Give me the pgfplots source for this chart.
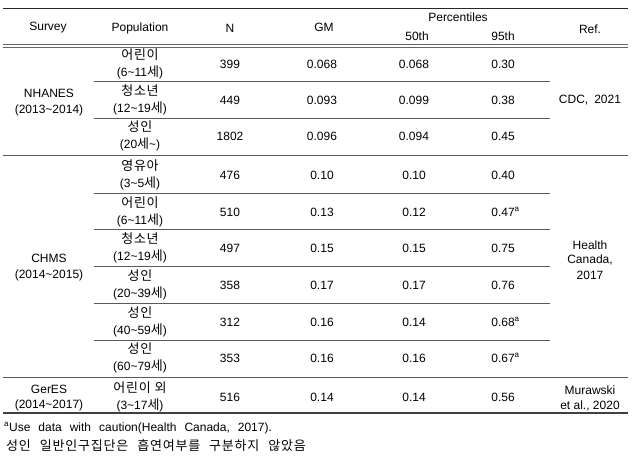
\documentclass[border=0pt]{standalone}
\usepackage{fontspec}
\setmainfont{Liberation Sans}
\newfontfamily\krf[LetterSpace=6]{Noto Sans CJK KR}
\newcommand\kr{\krf\fontsize{13bp}{15bp}\selectfont}
\usepackage{pgfplots}
\pgfplotsset{compat=1.18}
\newcommand\td{\textasciitilde}
\newcommand\sa{\rlap{\textsuperscript{\fontsize{8bp}{8bp}\selectfont a}}}
\begin{document}
\begin{tikzpicture}[tx/.style={font=\fontsize{12bp}{15bp}\selectfont, align=center, inner sep=0pt}]
\begin{axis}[hide axis, scale only axis, width=633bp, height=460bp,
  xmin=0, xmax=633, ymin=0, ymax=460, y dir=reverse, clip=false,
  nodes near coords, point meta=explicit symbolic,
  every node near coord/.append style={anchor=center, inner sep=0pt, font=\fontsize{12bp}{15bp}\selectfont, text=black}]
\path (axis cs:0,0) rectangle (axis cs:633,460);
% N
\addplot[draw=none, mark=none] coordinates {
(230,64)[399] (230,100)[449] (230,136)[1802]
(230,175)[476] (230,212)[510] (230,248)[497] (230,285)[358] (230,322)[312] (230,358)[353]
(230,397)[516]};
% GM
\addplot[draw=none, mark=none] coordinates {
(322,64)[0.068] (322,100)[0.093] (322,136)[0.096]
(322,175)[0.10] (322,212)[0.13] (322,248)[0.15] (322,285)[0.17] (322,322)[0.16] (322,358)[0.16]
(322,397)[0.14]};
% 50th
\addplot[draw=none, mark=none] coordinates {
(414,64)[0.068] (414,100)[0.099] (414,136)[0.094]
(414,175)[0.10] (414,212)[0.12] (414,248)[0.15] (414,285)[0.17] (414,322)[0.14] (414,358)[0.16]
(414,397)[0.14]};
% 95th
\addplot[draw=none, mark=none] coordinates {
(503,64)[0.30] (503,100)[0.38] (503,136)[0.45]
(503,175)[0.40] (503,212)[0.47\sa] (503,248)[0.75] (503,285)[0.76] (503,322)[0.68\sa] (503,358)[0.67\sa]
(503,397)[0.56]};

% rules
\draw[line width=1.6pt, black!85] (axis cs:3,8.5) -- (axis cs:628,8.5);
\draw[line width=0.8pt, black!60] (axis cs:3,44) -- (axis cs:628,44);
\draw[line width=0.8pt, black!60] (axis cs:3,47) -- (axis cs:628,47);
\draw[line width=0.9pt, black!65] (axis cs:94,81) -- (axis cs:550,81);
\draw[line width=0.9pt, black!65] (axis cs:94,118) -- (axis cs:550,118);
\draw[line width=0.9pt, black!65] (axis cs:94,193) -- (axis cs:550,193);
\draw[line width=0.9pt, black!65] (axis cs:94,229) -- (axis cs:550,229);
\draw[line width=0.9pt, black!65] (axis cs:94,266) -- (axis cs:550,266);
\draw[line width=0.9pt, black!65] (axis cs:94,303) -- (axis cs:550,303);
\draw[line width=0.9pt, black!65] (axis cs:94,340) -- (axis cs:550,340);
\draw[line width=0.9pt, black!65] (axis cs:3,155) -- (axis cs:628,155);
\draw[line width=0.9pt, black!65] (axis cs:3,377) -- (axis cs:628,377);
\draw[line width=1.3pt, black!75] (axis cs:3,413) -- (axis cs:628,413);

% header
\node[tx] at (axis cs:48,28) {Survey};
\node[tx] at (axis cs:140,28) {Population};
\node[tx] at (axis cs:230,28) {N};
\node[tx] at (axis cs:324,27) {GM};
\node[tx] at (axis cs:458,17) {Percentiles};
\node[tx] at (axis cs:417,36) {50th};
\node[tx] at (axis cs:503,36) {95th};
\node[tx] at (axis cs:590,29) {Ref.};

% survey
\node[tx] at (axis cs:49,93) {NHANES};
\node[tx] at (axis cs:49,110) {(2013\td2014)};
\node[tx] at (axis cs:49,258) {CHMS};
\node[tx] at (axis cs:49,275) {(2014\td2015)};
\node[tx] at (axis cs:49,389) {GerES};
\node[tx] at (axis cs:49,405) {(2014\td2017)};

% population
\node[tx] at (axis cs:140,55) {\kr 어린이};
\node[tx] at (axis cs:140,72) {(6\td11{\kr 세})};
\node[tx] at (axis cs:140,91) {\kr 청소년};
\node[tx] at (axis cs:140,108) {(12\td19{\kr 세})};
\node[tx] at (axis cs:140,127) {\kr 성인};
\node[tx] at (axis cs:140,144) {(20{\kr 세}\td)};
\node[tx] at (axis cs:140,166) {\kr 영유아};
\node[tx] at (axis cs:140,183) {(3\td5{\kr 세})};
\node[tx] at (axis cs:140,203) {\kr 어린이};
\node[tx] at (axis cs:140,220) {(6\td11{\kr 세})};
\node[tx] at (axis cs:140,239) {\kr 청소년};
\node[tx] at (axis cs:140,256) {(12\td19{\kr 세})};
\node[tx] at (axis cs:140,276) {\kr 성인};
\node[tx] at (axis cs:140,293) {(20\td39{\kr 세})};
\node[tx] at (axis cs:140,313) {\kr 성인};
\node[tx] at (axis cs:140,330) {(40\td59{\kr 세})};
\node[tx] at (axis cs:140,349) {\kr 성인};
\node[tx] at (axis cs:140,366) {(60\td79{\kr 세})};
\node[tx] at (axis cs:140,388) {\kr 어린이\hspace{4bp}외};
\node[tx] at (axis cs:140,405) {(3\td17{\kr 세})};

% ref
\node[tx] at (axis cs:590,100) {CDC,\hspace{6bp}2021};
\node[tx] at (axis cs:590,245) {Health};
\node[tx] at (axis cs:590,260) {Canada,};
\node[tx] at (axis cs:590,275) {2017};
\node[tx] at (axis cs:590,390) {Murawski};
\node[tx] at (axis cs:590,406) {et al., 2020};

% footnotes
\node[tx, anchor=west] at (axis cs:4,428) {\spaceskip=8bp\textsuperscript{\fontsize{8bp}{8bp}\selectfont a}Use data with caution(Health Canada, 2017).};
\node[tx, anchor=west] at (axis cs:6,446) {\kr\spaceskip=9bp 성인 일반인구집단은 흡연여부를 구분하지 않았음};
\end{axis}
\end{tikzpicture}
\end{document}
